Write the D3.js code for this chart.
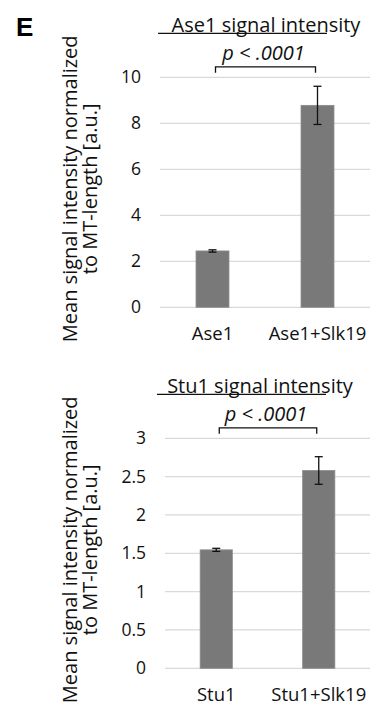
<!DOCTYPE html>
<html>
<head>
<meta charset="utf-8">
<script src="https://cdn.jsdelivr.net/npm/d3@7"></script>
<style>
  body { margin: 0; background: #fff; }
  svg { display: block; font-family: "Open Sans", sans-serif; }
</style>
</head>
<body>
<svg id="chart" width="376" height="711"></svg>
<script>
// Panel E data
const ase1Categories = ["Ase1", "Ase1+Slk19"];
const ase1Values = [2.45, 8.78];
const ase1Errors = [0.05, 0.83];
const ase1Ticks = [0, 2, 4, 6, 8, 10];

const stu1Categories = ["Stu1", "Stu1+Slk19"];
const stu1Values = [1.545, 2.58];
const stu1Errors = [0.02, 0.18];
const stu1Ticks = [0, 0.5, 1, 1.5, 2, 2.5, 3];

const pLabel = "p < .0001";
const yLabelLines = ["Mean signal intensity normalized", "to MT-length [a.u.]"];

const textColor = "#111";
const svg = d3.select("#chart");

svg.append("text")
    .attr("x", 16)
    .attr("y", 36)
    .style("font-family", "'Liberation Sans', Arial, sans-serif")
    .style("font-weight", "bold")
    .style("font-size", "26px")
    .attr("fill", "#000")
    .text("E");

function drawPanel(cfg) {
    const g = svg.append("g");

    const y = d3.scaleLinear()
        .domain([0, d3.max(cfg.ticks)])
        .range([cfg.bottom, cfg.top]);

    const x = d3.scaleBand()
        .domain(cfg.categories)
        .range([cfg.left, cfg.right])
        .paddingInner(0.686)
        .paddingOuter(0.343);

    // gridlines
    g.append("g")
        .selectAll("line")
        .data(cfg.ticks)
        .join("line")
        .attr("x1", cfg.left)
        .attr("x2", cfg.right)
        .attr("y1", d => y(d))
        .attr("y2", d => y(d))
        .attr("stroke", "#d9d9d9")
        .attr("stroke-width", 1.3);

    // y axis labels (no axis line)
    const yAxis = g.append("g")
        .attr("transform", `translate(${cfg.tickRight},0)`)
        .call(d3.axisLeft(y).tickValues(cfg.ticks).tickSize(0).tickPadding(0).tickFormat(d3.format("")));
    yAxis.select(".domain").remove();
    yAxis.selectAll("text")
        .style("font-family", "'Open Sans', sans-serif")
        .style("font-size", "17.5px")
        .attr("fill", textColor);

    // bars
    g.append("g")
        .selectAll("rect")
        .data(cfg.values)
        .join("rect")
        .attr("x", (d, i) => x(cfg.categories[i]))
        .attr("width", x.bandwidth())
        .attr("y", d => y(d))
        .attr("height", d => y(0) - y(d))
        .attr("fill", "#797979")
        .attr("stroke", "#8c8c8c")
        .attr("stroke-width", 0.8);

    // error bars
    const eb = g.append("g")
        .attr("stroke", "#111")
        .attr("stroke-width", 1.3);
    cfg.values.forEach((v, i) => {
        const cx = x(cfg.categories[i]) + x.bandwidth() / 2;
        const e = cfg.errors[i];
        eb.append("line")
            .attr("x1", cx).attr("x2", cx)
            .attr("y1", y(v + e)).attr("y2", y(v - e));
        [v + e, v - e].forEach(t => {
            eb.append("line")
                .attr("x1", cx - 4).attr("x2", cx + 4)
                .attr("y1", y(t)).attr("y2", y(t));
        });
    });

    // category labels
    g.append("g")
        .selectAll("text")
        .data(cfg.categories)
        .join("text")
        .attr("x", d => x(d) + x.bandwidth() / 2)
        .attr("y", cfg.bottom + 33)
        .attr("text-anchor", "middle")
        .style("font-size", "18.5px")
        .attr("fill", textColor)
        .text(d => d);

    // title and its underline
    g.append("text")
        .attr("x", cfg.titleX)
        .attr("y", cfg.top - 45)
        .attr("text-anchor", "middle")
        .style("font-size", "20px")
        .attr("fill", textColor)
        .text(cfg.title);
    g.append("line")
        .attr("x1", cfg.ulineX1)
        .attr("x2", cfg.ulineX2)
        .attr("y1", cfg.top - 44)
        .attr("y2", cfg.top - 44)
        .attr("stroke", textColor)
        .attr("stroke-width", 1.3);

    // significance bracket
    const bx1 = x(cfg.categories[0]) + x.bandwidth() / 2 + 3;
    const bx2 = x(cfg.categories[1]) + x.bandwidth() / 2 - 2;
    const by = cfg.top - 10.5;
    g.append("path")
        .attr("d", `M${bx1},${by + 6}V${by}H${bx2}V${by + 6}`)
        .attr("fill", "none")
        .attr("stroke", textColor)
        .attr("stroke-width", 1.3);
    g.append("text")
        .attr("x", (bx1 + bx2) / 2 - 2)
        .attr("y", by - 7)
        .attr("text-anchor", "middle")
        .style("font-size", "20px")
        .style("font-style", "italic")
        .attr("fill", textColor)
        .text(pLabel);

    // y axis title, two rotated lines
    const cy = (cfg.top + cfg.bottom) / 2 - 3.5;
    const yt = g.append("text")
        .attr("transform", `translate(77,${cy}) rotate(-90)`)
        .attr("text-anchor", "middle")
        .style("font-size", "20px")
        .attr("fill", textColor);
    yLabelLines.forEach((line, i) => {
        yt.append("tspan")
            .attr("x", 0)
            .attr("dy", i === 0 ? 0 : 19.5)
            .text(line);
    });
}

drawPanel({
    categories: ase1Categories,
    values: ase1Values,
    errors: ase1Errors,
    ticks: ase1Ticks,
    title: "Ase1 signal intensity",
    top: 77.3, bottom: 307.3,
    left: 160, right: 370,
    tickRight: 141,
    titleX: 266, ulineX1: 158, ulineX2: 327
});

drawPanel({
    categories: stu1Categories,
    values: stu1Values,
    errors: stu1Errors,
    ticks: stu1Ticks,
    title: "Stu1 signal intensity",
    top: 438.3, bottom: 668.3,
    left: 165, right: 370,
    tickRight: 146,
    titleX: 260, ulineX1: 157, ulineX2: 326
});
</script>
</body>
</html>
